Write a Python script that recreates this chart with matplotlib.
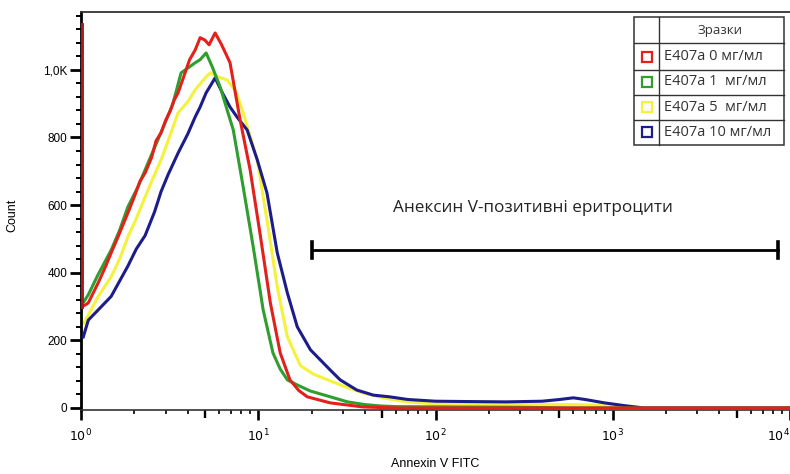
import numpy as np
import matplotlib.pyplot as plt
from matplotlib.ticker import FixedLocator, NullLocator

# Data (x = Annexin V FITC, y = Count)
red_x = [1.012, 1.012, 1.06, 1.1, 1.25, 1.38, 1.48, 1.6, 1.72, 1.84, 2.0, 2.15, 2.3, 2.5, 2.65,
         2.83, 3.0, 3.2, 3.35, 3.53, 3.8, 4.1, 4.41, 4.7, 5.0, 5.28, 5.71, 6.2, 6.93, 7.9, 9.0,
         10.3, 11.7, 13.3, 15.1, 16.9, 18.9, 25.5, 39.0, 60.0, 10000.0]
red_y = [1133, 300, 305, 311, 370, 420, 459, 500, 540, 577, 625, 670, 695, 740, 790,
         814, 850, 880, 910, 932, 980, 1030, 1059, 1095, 1088, 1074, 1109, 1075, 1021, 852, 704,
         506, 311, 163, 83, 52, 33, 15, 3, 0, 0]

green_x = [1.04, 1.1, 1.25, 1.48, 1.65, 1.84, 2.1, 2.39, 2.7, 2.98, 3.3, 3.67, 4.0, 4.41, 4.7,
           5.08, 5.5, 6.09, 6.6, 7.23, 8.22, 9.37, 10.66, 12.1, 13.3, 14.6, 16.6, 19.7, 25.5,
           31.9, 40.0, 48.8, 60.0, 300.0, 600.0, 10000.0]
green_y = [315, 335, 395, 467, 525, 595, 655, 725, 790, 843, 900, 991, 1005, 1021, 1030,
           1050, 1009, 950, 890, 822, 654, 476, 290, 163, 115, 83, 68, 50, 33,
           18, 10, 6, 4, 2, 0, 0]

yellow_x = [1.04, 1.1, 1.25, 1.48, 1.65, 1.84, 2.05, 2.3, 2.6, 2.83, 3.1, 3.53, 4.0, 4.41, 5.08,
            5.36, 5.9, 6.68, 7.5, 8.22, 9.87, 11.2, 12.8, 14.6, 17.3, 20.5, 25.5, 31.9, 39.3,
            53.0, 69.0, 100.0, 300.0, 600.0, 900.0, 1300.0, 1500.0, 10000.0]
yellow_y = [251, 275, 330, 388, 440, 506, 560, 624, 690, 734, 790, 873, 905, 941, 979,
            991, 980, 970, 935, 873, 734, 556, 358, 210, 125, 100, 80, 60, 44,
            28, 18, 12, 10, 10, 8, 4, 0, 0]

blue_x = [1.03, 1.1, 1.25, 1.48, 1.65, 1.84, 2.05, 2.3, 2.6, 2.83, 3.1, 3.53, 4.0, 4.41, 4.7,
          5.08, 5.71, 6.3, 6.93, 7.6, 8.66, 9.87, 11.2, 12.8, 14.6, 16.6, 19.7, 25.5, 29.0,
          36.0, 44.6, 55.0, 70.0, 100.0, 150.0, 250.0, 400.0, 500.0, 600.0, 700.0, 900.0,
          1200.0, 1500.0, 10000.0]
blue_y = [210, 260, 290, 330, 375, 420, 470, 510, 580, 640, 690, 754, 810, 861, 890,
          932, 976, 930, 890, 860, 822, 734, 636, 459, 340, 240, 172, 112, 83,
          53, 38, 33, 25, 20, 19, 18, 20, 25, 30, 25, 15,
          6, 0, 0]

series = [
    ("E407a 0 мг/мл", "#e3211c"),
    ("E407a 1  мг/мл", "#2e9e2e"),
    ("E407a 5  мг/мл", "#f5f23c"),
    ("E407a 10 мг/мл", "#1c1c8a"),
]

gate_lo, gate_hi, gate_y = 20.2, 8555.0, 467
gate_label = "Анексин V-позитивні еритроцити"

yticks = [0, 200, 400, 600, 800, 1000]
ytick_labels = ["0", "200", "400", "600", "800", "1,0K"]
xticks = [1, 10, 100, 1000, 10000]
xtick_labels = [r"$10^{0}$", r"$10^{1}$", r"$10^{2}$", r"$10^{3}$", r"$10^{4}$"]

plt.rcParams['font.family'] = ['Liberation Sans', 'DejaVu Sans']

fig = plt.figure(figsize=(7.9, 4.74), dpi=100)
ax = fig.add_axes([81 / 790, 64 / 474, 709 / 790, 398 / 474])

lw = 2.2
ax.plot(yellow_x, yellow_y, color=series[2][1], lw=lw, zorder=2)
ax.plot(blue_x, blue_y, color=series[3][1], lw=lw, zorder=3)
ax.plot(green_x, green_y, color=series[1][1], lw=lw, zorder=4)
ax.plot(red_x[1:], red_y[1:], color=series[0][1], lw=lw, zorder=5)
ax.plot(red_x[:2], red_y[:2], color="#b3151a", lw=2.8, zorder=5)

ax.set_xscale('log')
ax.set_xlim(1, 1e4)
ax.set_ylim(-6, 1171)

# gate bar
ax.plot([gate_lo, gate_hi], [gate_y, gate_y], color='black', lw=2.0, zorder=6)
for gx in (gate_lo, gate_hi):
    ax.plot([gx, gx], [gate_y - 24, gate_y + 24], color='black', lw=2.6, zorder=6)
ax.text(np.sqrt(gate_lo * gate_hi) * 0.85, gate_y + 123, gate_label, ha='center', va='center',
        fontsize=12.3, family=['Open Sans', 'DejaVu Sans'], color='#222222')

# axes styling
ax.spines['right'].set_visible(False)
ax.spines['top'].set_color('#333333')
ax.spines['top'].set_linewidth(1.3)
ax.spines['left'].set_linewidth(2.0)
ax.spines['bottom'].set_color('#333333')
ax.spines['bottom'].set_linewidth(1.2)

ax.yaxis.set_major_locator(FixedLocator(yticks))
ax.set_yticklabels(ytick_labels)
ax.yaxis.set_minor_locator(FixedLocator(np.arange(0, 1161, 40)))
ax.tick_params(axis='y', which='major', length=8, width=2.0, pad=2, labelsize=8.5, colors='black')
ax.tick_params(axis='y', which='minor', length=3.5, width=1.4)

ax.xaxis.set_major_locator(FixedLocator(xticks))
ax.set_xticklabels(xtick_labels)
ax.get_xticklabels()[-1].set_horizontalalignment('right')
minor = [m * 10 ** d for d in range(4) for m in (2, 3, 4, 6, 7, 8, 9)]
ax.xaxis.set_minor_locator(FixedLocator(minor))
ax.tick_params(axis='x', which='major', length=7.5, width=1.9, pad=5, labelsize=9, colors='black')
ax.tick_params(axis='x', which='minor', length=3, width=1.2)

sec = ax.secondary_xaxis('bottom')
sec.set_xticks([5, 50, 500, 5000])
sec.xaxis.set_minor_locator(NullLocator())
sec.tick_params(length=5.5, width=1.7, labelbottom=False)
sec.spines['bottom'].set_visible(False)

ax.set_ylabel("Count", fontsize=9)
ax.yaxis.set_label_coords(-0.089, 0.49)
ax.set_xlabel("Annexin V FITC", fontsize=9)
ax.xaxis.set_label_coords(0.499, -0.12)

# legend drawn as a small table in pixel coordinates
lg = fig.add_axes([0, 0, 1, 1], zorder=10)
lg.set_xlim(0, 790)
lg.set_ylim(474, 0)
lg.axis('off')
lg.add_patch(plt.Rectangle((634, 17), 150, 128, facecolor='white', edgecolor='#333333', lw=1.1))
for yy in (43, 70, 95, 120):
    lg.plot([634, 784], [yy, yy], color='#333333', lw=1.0)
lg.plot([659, 659], [17, 145], color='#333333', lw=1.0)
lg.text(720, 30, "Зразки", ha='center', va='center', fontsize=9.5,
        family=['Open Sans', 'DejaVu Sans'], color='#333333')
for i, (name, col) in enumerate(series):
    yc = 56.5 + 25.3 * i
    lg.plot([647], [yc], marker='s', markersize=7.5, markerfacecolor='#fbfbfb',
            markeredgecolor=col, markeredgewidth=1.6)
    lg.text(664, yc, name, ha='left', va='center', fontsize=10.5,
            family=['Open Sans', 'DejaVu Sans'], color='#333333')

fig.savefig("out.png", dpi=100)
